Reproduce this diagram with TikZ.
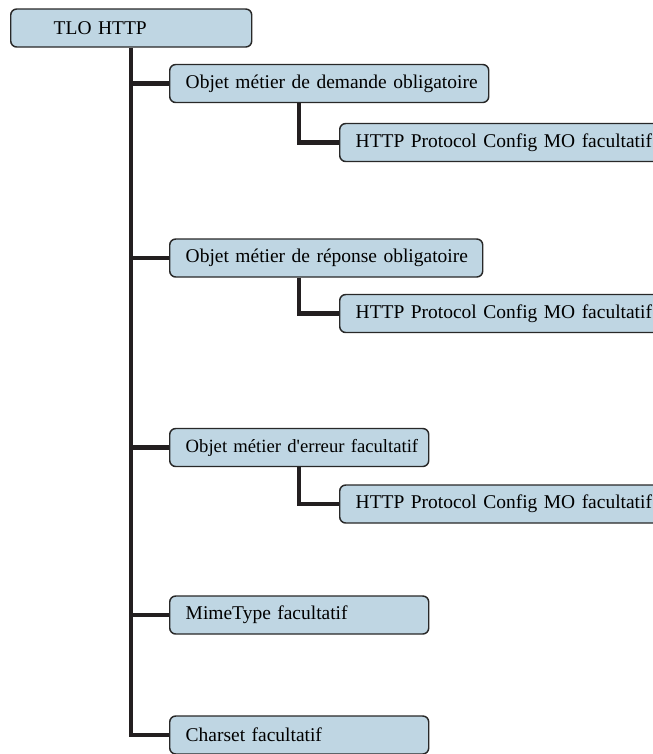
\documentclass[tikz,border=0pt]{standalone}
\usepackage{fontspec}
\setmainfont[WordSpace=0.8]{Liberation Serif}
\usepackage{tikz}
\usetikzlibrary{positioning}
\definecolor{mofill}{RGB}{191,214,227}
\definecolor{moline}{RGB}{40,40,40}
\definecolor{treeline}{RGB}{35,31,32}

\begin{document}
\begin{tikzpicture}[
  x=0.75pt, y=-0.75pt,
  font=\fontsize{14.6}{17}\selectfont,
  mobox/.style={draw=moline, line width=1.1pt, rounded corners=4.5pt, fill=mofill, align=left, minimum height=28.5pt, inner xsep=12pt, inner ysep=2pt, anchor=west},
  link/.style={draw=treeline, line width=3.2pt}
]
\useasboundingbox (0,0) rectangle (653,754);
\node[mobox, text width=156.75pt] (root) at (10,28) {\hspace*{20.25pt}TLO HTTP};
\node[mobox, text width=215.25pt] (req) at (169,83.5) {\mbox{Objet métier de demande obligatoire}};
\node[mobox, text width=240pt] (reqcfg) at (339,142.5) {\mbox{HTTP Protocol Config MO facultatif}};
\node[mobox, text width=210.75pt] (resp) at (169,258) {\mbox{Objet métier de réponse obligatoire}};
\node[mobox, text width=240pt] (respcfg) at (339,313.5) {\mbox{HTTP Protocol Config MO facultatif}};
\node[mobox, text width=170.25pt, font=\fontsize{14}{17}\selectfont] (err) at (169,447.5) {\mbox{Objet métier d\textquotesingle erreur facultatif}};
\node[mobox, text width=240pt] (errcfg) at (339,504) {\mbox{HTTP Protocol Config MO facultatif}};
\node[mobox, text width=170.25pt] (mime) at (169,615) {MimeType facultatif};
\node[mobox, text width=170.25pt] (charset) at (169,735) {Charset facultatif};
% tronc et branches
\draw[link] (root.south) |- (charset.west);
\draw[link] (root.south |- req.west) -- (req.west);
\draw[link] (root.south |- resp.west) -- (resp.west);
\draw[link] (root.south |- err.west) -- (err.west);
\draw[link] (root.south |- mime.west) -- (mime.west);
\draw[link] ([xshift=97.5pt]req.south west) |- (reqcfg.west);
\draw[link] ([xshift=97.5pt]resp.south west) |- (respcfg.west);
\draw[link] ([xshift=97.5pt]err.south west) |- (errcfg.west);
\end{tikzpicture}
\end{document}
